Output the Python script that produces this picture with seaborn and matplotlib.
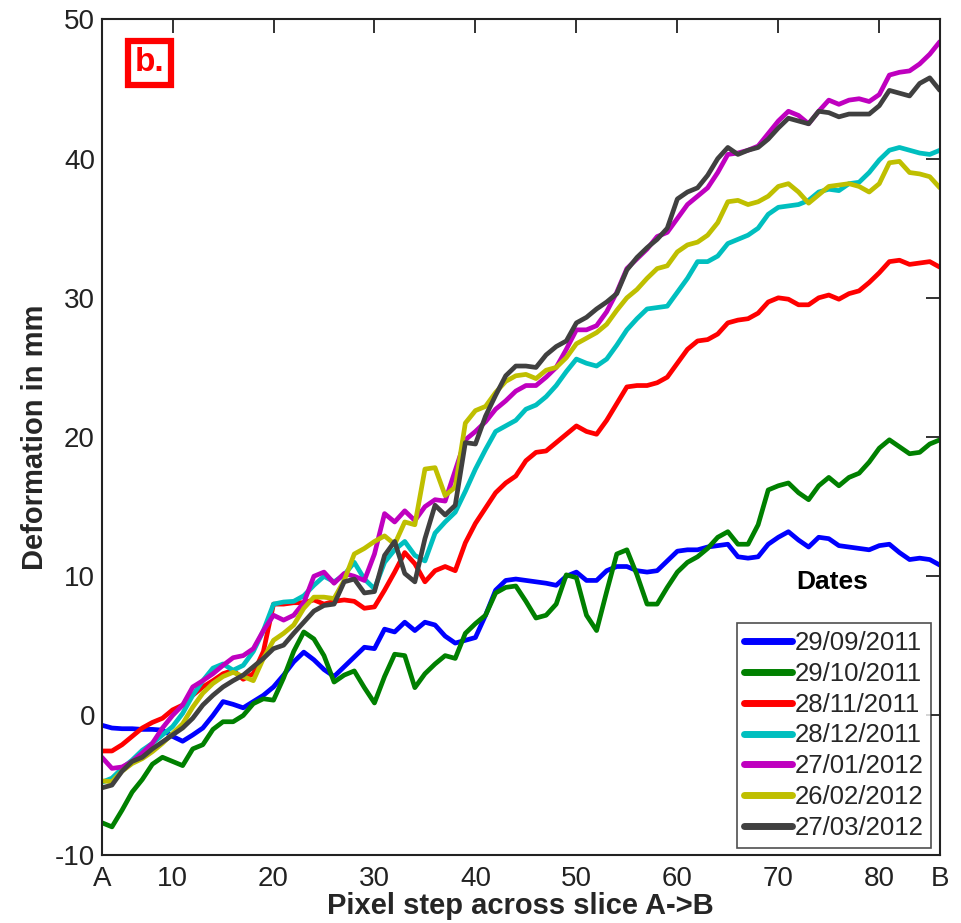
import numpy as np
import pandas as pd
import matplotlib
matplotlib.use("Agg")
import matplotlib.pyplot as plt
import seaborn as sns
from matplotlib.lines import Line2D

# ---------------- data ----------------
pixel_step = list(range(3, 87))

dates = ["29/09/2011", "29/10/2011", "28/11/2011", "28/12/2011",
         "27/01/2012", "26/02/2012", "27/03/2012"]

d_29_09_2011 = [-0.7, -0.9, -0.95, -0.95, -1.0, -1.0, -1.05, -1.5, -1.85, -1.4,
                -0.9, 0.0, 1.0, 0.8, 0.55, 1.0, 1.45, 2.05, 2.9, 3.85,
                4.55, 4.0, 3.3, 2.8, 3.5, 4.2, 4.9, 4.8, 6.2, 6.0,
                6.7, 6.1, 6.7, 6.5, 5.7, 5.2, 5.4, 5.6, 7.2, 9.0,
                9.7, 9.8, 9.7, 9.6, 9.5, 9.35, 10.0, 10.3, 9.7, 9.7,
                10.4, 10.7, 10.7, 10.4, 10.3, 10.4, 11.1, 11.8, 11.9, 11.9,
                12.1, 12.2, 12.3, 11.4, 11.3, 11.4, 12.3, 12.8, 13.2, 12.6,
                12.1, 12.8, 12.7, 12.2, 12.1, 12.0, 11.9, 12.2, 12.3, 11.7,
                11.2, 11.3, 11.2, 10.8]

d_29_10_2011 = [-7.7, -8.0, -6.8, -5.5, -4.6, -3.5, -3.0, -3.3, -3.6, -2.4,
                -2.1, -1.0, -0.45, -0.45, 0.0, 0.85, 1.2, 1.1, 2.7, 4.6,
                6.0, 5.5, 4.3, 2.4, 2.9, 3.2, 2.0, 0.9, 2.8, 4.4,
                4.3, 2.0, 3.0, 3.7, 4.3, 4.1, 5.9, 6.6, 7.2, 8.8,
                9.2, 9.3, 8.2, 7.0, 7.2, 8.0, 10.1, 9.9, 7.2, 6.1,
                8.9, 11.6, 11.9, 10.1, 8.0, 8.0, 9.2, 10.3, 11.0, 11.4,
                12.0, 12.8, 13.2, 12.3, 12.3, 13.7, 16.2, 16.5, 16.7, 16.0,
                15.5, 16.5, 17.1, 16.5, 17.1, 17.4, 18.2, 19.2, 19.8, 19.3,
                18.8, 18.9, 19.5, 19.8]

d_28_11_2011 = [-2.55, -2.55, -2.1, -1.5, -0.9, -0.5, -0.2, 0.4, 0.75, 1.45,
                2.05, 2.5, 3.0, 3.25, 2.6, 3.0, 4.6, 8.0, 8.0, 8.1,
                8.1, 8.3, 8.0, 8.2, 8.3, 8.2, 7.7, 7.8, 9.0, 10.3,
                11.7, 10.9, 9.6, 10.4, 10.7, 10.4, 12.4, 13.8, 14.9, 16.0,
                16.7, 17.2, 18.3, 18.9, 19.0, 19.6, 20.2, 20.8, 20.4, 20.2,
                21.2, 22.4, 23.6, 23.7, 23.7, 23.9, 24.3, 25.3, 26.3, 26.9,
                27.0, 27.4, 28.2, 28.4, 28.5, 28.9, 29.7, 30.0, 29.9, 29.5,
                29.5, 30.0, 30.2, 29.9, 30.3, 30.5, 31.1, 31.8, 32.6, 32.7,
                32.4, 32.5, 32.6, 32.2]

d_28_12_2011 = [-4.8, -4.5, -3.8, -3.2, -2.5, -2.0, -1.4, -0.8, 0.15, 1.45,
                2.5, 3.4, 3.7, 3.25, 3.6, 4.6, 6.1, 8.0, 8.15, 8.2,
                8.6, 9.35, 10.0, 9.6, 10.1, 11.0, 9.8, 9.1, 11.0, 11.9,
                12.5, 11.5, 11.1, 13.1, 13.9, 14.6, 16.1, 17.7, 19.1, 20.4,
                20.8, 21.2, 22.0, 22.3, 22.9, 23.7, 24.7, 25.6, 25.3, 25.1,
                25.6, 26.6, 27.7, 28.5, 29.2, 29.3, 29.4, 30.4, 31.4, 32.6,
                32.6, 33.0, 33.9, 34.2, 34.5, 35.0, 36.0, 36.5, 36.6, 36.7,
                37.0, 37.6, 37.8, 37.7, 38.2, 38.3, 39.0, 39.9, 40.6, 40.8,
                40.6, 40.4, 40.3, 40.6]

d_27_01_2012 = [-3.0, -3.8, -3.7, -3.3, -2.7, -2.0, -0.9, 0.0, 0.75, 2.05,
                2.5, 3.0, 3.6, 4.15, 4.3, 4.8, 6.1, 7.2, 6.85, 7.2,
                8.1, 10.0, 10.3, 9.5, 10.2, 10.0, 9.7, 11.6, 14.5, 13.9,
                14.7, 14.0, 15.0, 15.5, 15.4, 17.6, 19.8, 20.4, 21.1, 22.0,
                22.6, 23.3, 23.7, 23.7, 24.3, 25.0, 26.3, 27.7, 27.7, 28.0,
                29.0, 30.4, 32.1, 32.8, 33.5, 34.4, 34.7, 35.7, 36.7, 37.3,
                37.9, 39.0, 40.3, 40.4, 40.6, 40.9, 41.8, 42.7, 43.4, 43.1,
                42.5, 43.4, 44.2, 43.9, 44.2, 44.3, 44.1, 44.6, 46.0, 46.2,
                46.3, 46.8, 47.5, 48.4]

d_26_02_2012 = [-4.7, -4.75, -4.0, -3.45, -3.1, -2.6, -2.0, -1.3, -0.6, 0.6,
                1.6, 2.3, 2.8, 3.1, 2.8, 2.5, 4.1, 5.4, 5.9, 6.5,
                7.7, 8.5, 8.5, 8.4, 9.7, 11.6, 12.0, 12.5, 12.9, 12.3,
                13.9, 13.7, 17.7, 17.8, 15.8, 16.4, 21.0, 21.9, 22.2, 23.2,
                24.0, 24.4, 24.5, 24.2, 24.8, 25.0, 25.7, 26.7, 27.1, 27.5,
                28.1, 29.1, 30.0, 30.6, 31.4, 32.1, 32.3, 33.3, 33.8, 34.0,
                34.5, 35.4, 36.9, 37.0, 36.7, 36.9, 37.3, 38.0, 38.2, 37.6,
                36.8, 37.4, 38.0, 38.1, 38.2, 38.0, 37.6, 38.2, 39.7, 39.8,
                39.0, 38.9, 38.7, 37.9]

d_27_03_2012 = [-5.2, -5.0, -4.0, -3.3, -3.0, -2.4, -1.9, -1.4, -0.9, -0.2,
                0.75, 1.45, 2.05, 2.5, 2.9, 3.5, 4.1, 4.8, 5.05, 5.9,
                6.7, 7.5, 7.9, 8.0, 9.6, 9.8, 8.8, 8.9, 11.5, 12.5,
                10.2, 9.6, 12.7, 15.1, 14.4, 15.1, 19.6, 19.5, 21.5, 23.0,
                24.4, 25.1, 25.1, 25.0, 25.9, 26.5, 26.9, 28.2, 28.6, 29.2,
                29.7, 30.3, 32.0, 32.9, 33.6, 34.2, 35.0, 37.1, 37.6, 37.9,
                38.8, 40.0, 40.8, 40.3, 40.6, 40.8, 41.4, 42.2, 42.9, 42.7,
                42.5, 43.4, 43.3, 43.0, 43.2, 43.2, 43.2, 43.8, 44.9, 44.7,
                44.5, 45.4, 45.8, 44.9]

series = [d_29_09_2011, d_29_10_2011, d_28_11_2011, d_28_12_2011,
          d_27_01_2012, d_26_02_2012, d_27_03_2012]

colors = ["#0000ff", "#008000", "#ff0000", "#00bfbf",
          "#bf00bf", "#bfbf00", "#404040"]

x_tick_pos = [3, 10, 20, 30, 40, 50, 60, 70, 80, 86]
x_tick_labels = ["A", "10", "20", "30", "40", "50", "60", "70", "80", "B"]
y_ticks = [-10, 0, 10, 20, 30, 40, 50]

# ---------------- frame ----------------
df = pd.concat([pd.DataFrame({"step": pixel_step, "value": v, "date": d})
                for d, v in zip(dates, series)], ignore_index=True)

sns.set_theme(style="white")
plt.rcParams["font.family"] = ["Liberation Sans", "DejaVu Sans"]
plt.rcParams["axes.unicode_minus"] = False

fig = plt.figure(figsize=(9.61, 9.23), dpi=100)
ax = fig.add_axes([0.106, 0.074, 0.872, 0.905])

sns.lineplot(data=df, x="step", y="value", hue="date", hue_order=dates,
             palette=colors, linewidth=3.4, ax=ax, legend=False, sort=False)

ax.set_xlim(3, 86)
ax.set_ylim(-10, 50)
ax.set_xticks(x_tick_pos)
ax.set_xticklabels(x_tick_labels)
ax.set_yticks(y_ticks)
ax.tick_params(axis="both", direction="in", length=10, width=1.3,
               labelsize=20, colors="#222222", top=True, right=True,
               labeltop=False, labelright=False)
ax.tick_params(axis="x", pad=8)
ax.tick_params(axis="y", pad=5)
for s in ax.spines.values():
    s.set_visible(True)
    s.set_color("#222222")
    s.set_linewidth(1.5)

ax.set_xlabel("Pixel step across slice A->B", fontsize=21, fontweight="bold",
              labelpad=0)
ax.set_ylabel("Deformation in mm", fontsize=21, fontweight="bold", labelpad=4)

# legend
handles = [Line2D([0], [0], color=c, lw=5) for c in colors]
leg = ax.legend(handles, dates, loc="lower right",
                bbox_to_anchor=(0.9895, 0.008), fontsize=18.5, frameon=True,
                fancybox=False, edgecolor="#222222", handlelength=1.85,
                handletextpad=0.1, labelspacing=0.27, borderpad=0.3,
                borderaxespad=0.0)
leg.get_frame().set_linewidth(1.2)
ax.text(0.871, 0.326, "Dates", transform=ax.transAxes, ha="center",
        va="center", fontsize=19, fontweight="bold", color="black")

# panel label
ax.text(0.057, 0.948, "b.", transform=ax.transAxes, ha="center", va="center",
        fontsize=24, fontweight="bold", color="red",
        bbox=dict(boxstyle="square,pad=0.2", facecolor="white",
                  edgecolor="red", linewidth=4.5))

fig.savefig("out.png", dpi=100)
